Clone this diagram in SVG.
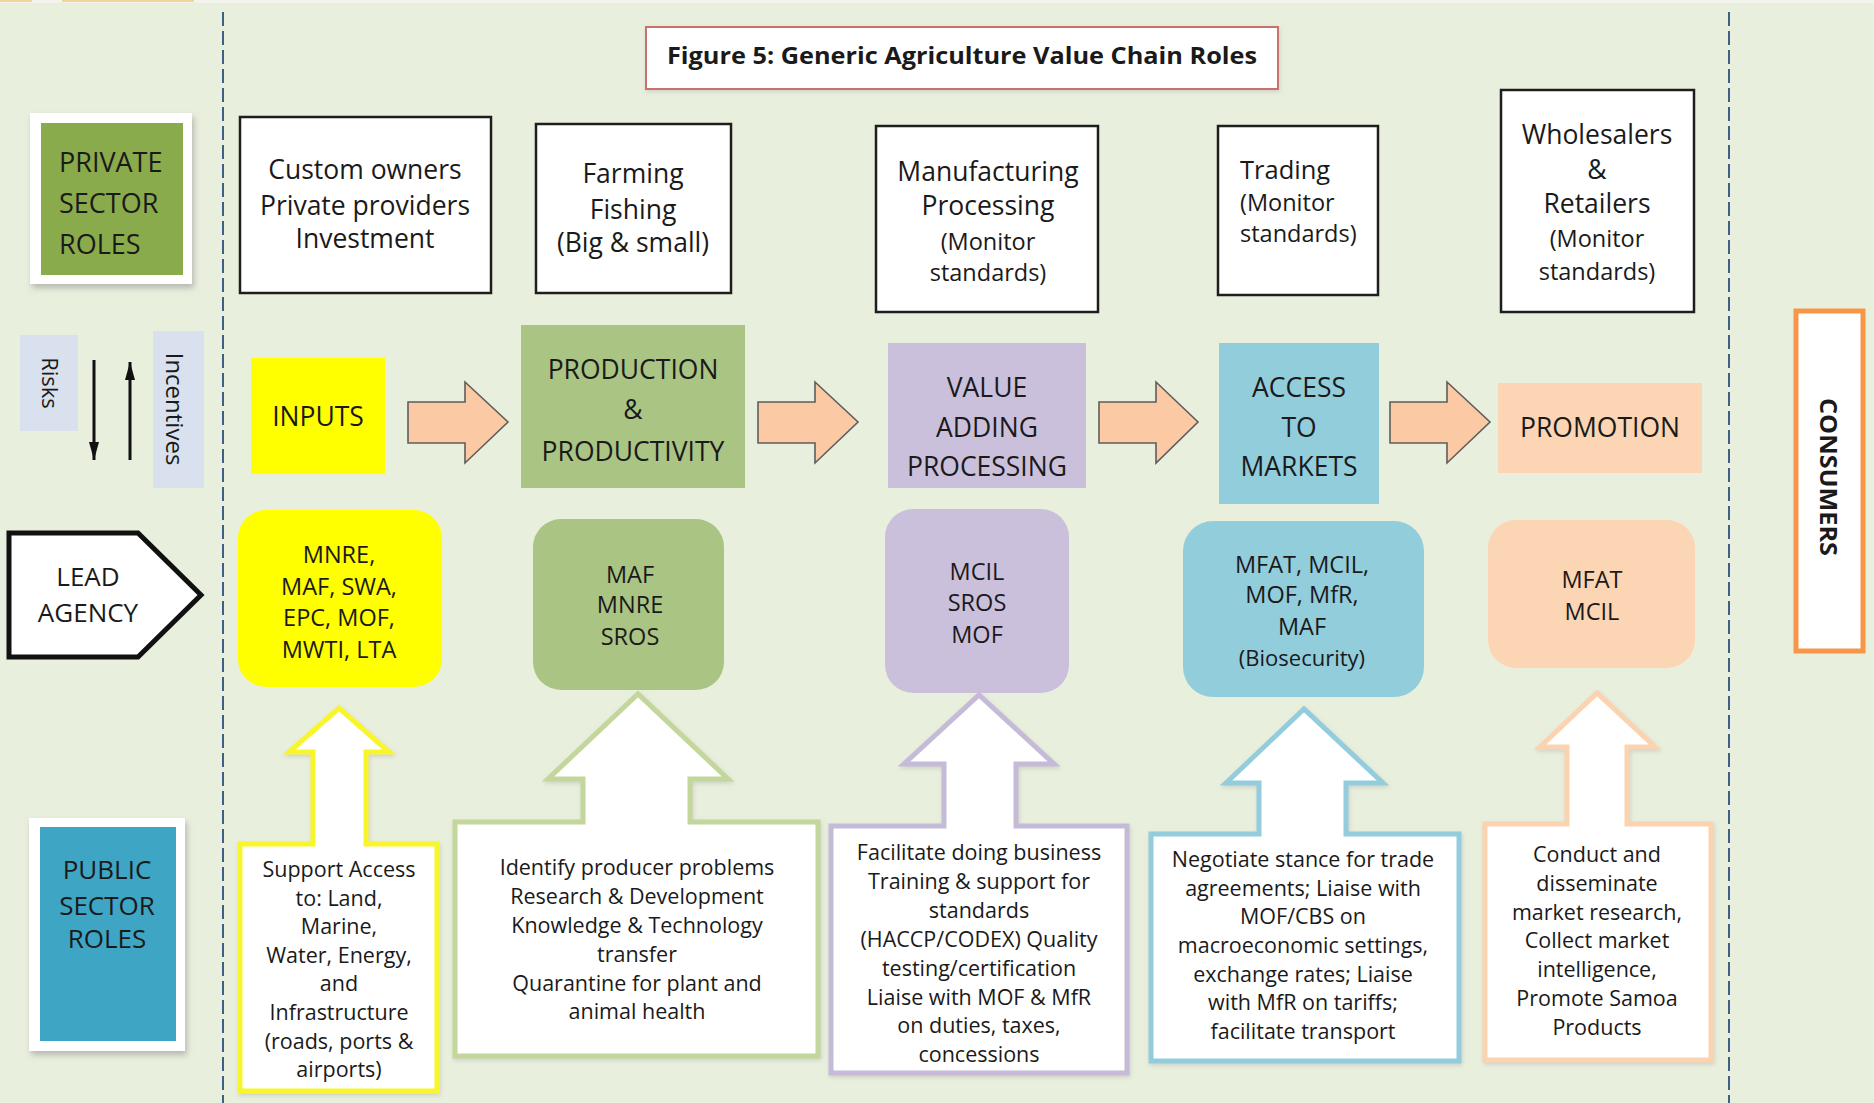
<svg xmlns="http://www.w3.org/2000/svg" width="1874" height="1103" viewBox="0 0 1874 1103">
  <defs>
    <style>
      .t { font-family: "Open Sans", "Liberation Sans", sans-serif; fill: #1a1a1a; text-anchor: middle; }
      .c { font-size: 21.5px; }
      .a { font-size: 23.5px; }
      .m { font-size: 23.5px; }
      .g { font-size: 26.5px; }
      .b { font-weight: bold; }
      .box { fill: #ffffff; stroke: #1e1e1e; stroke-width: 2.5; }
      .dash { stroke: #3f5f85; stroke-width: 2; stroke-dasharray: 14 5; fill: none; }
      .flow { fill: #fbc9a4; stroke: #5e5e5e; stroke-width: 1.6; stroke-linejoin: miter; }
      .call { fill: #ffffff; stroke-width: 5; stroke-linejoin: miter; }
      .rr { stroke: none; }
    </style>
    <filter id="shadow" x="-20%" y="-20%" width="140%" height="140%">
      <feDropShadow dx="2" dy="4" stdDeviation="3" flood-color="#8a8a8a" flood-opacity="0.55"/>
    </filter>
    <filter id="soft" x="-10%" y="-10%" width="120%" height="120%">
      <feDropShadow dx="1" dy="2" stdDeviation="2" flood-color="#9a9a9a" flood-opacity="0.35"/>
    </filter>
    <marker id="head" viewBox="0 0 18 10" markerUnits="userSpaceOnUse" markerWidth="18" markerHeight="10" refX="18" refY="5" orient="auto">
      <path d="M0,0 L18,5 L0,10 Z" fill="#111"/>
    </marker>
  </defs>

  <!-- page background -->
  <rect x="0" y="0" width="1874" height="1103" fill="#e9efdd"/>
  <rect x="0" y="0" width="1874" height="3" fill="#f3f5ec"/>
  <rect x="0" y="0" width="32" height="2" fill="#f2d49a"/>
  <rect x="62" y="0" width="132" height="2" fill="#f2d49a"/>

  <!-- column separators -->
  <line class="dash" x1="223" y1="12" x2="223" y2="1103"/>
  <line class="dash" x1="1729" y1="12" x2="1729" y2="1103"/>

  <!-- title -->
  <g id="title">
    <rect x="646" y="27" width="632" height="62" fill="#ffffff" stroke="#c8716d" stroke-width="2" filter="url(#soft)"/>
    <text class="t b" x="962" y="64" font-size="24" textLength="590" lengthAdjust="spacingAndGlyphs">Figure 5: Generic Agriculture Value Chain Roles</text>
  </g>

  <!-- row labels -->
  <g id="private-sector-roles">
    <rect x="30" y="113" width="162" height="171" fill="#ffffff" filter="url(#shadow)"/>
    <rect x="41" y="123" width="142" height="152" fill="#8aab4b"/>
    <text class="t" font-size="27" style="text-anchor:start" x="59" y="172">PRIVATE</text>
    <text class="t" font-size="27" style="text-anchor:start" x="59" y="213">SECTOR</text>
    <text class="t" font-size="27" style="text-anchor:start" x="59" y="254">ROLES</text>
  </g>

  <g id="risks">
    <rect x="20" y="335" width="58" height="96" fill="#d9e1ee"/>
    <text class="t" font-size="22" transform="translate(50,383) rotate(90)" x="0" y="8">Risks</text>
  </g>
  <g id="incentives">
    <rect x="153" y="331" width="51" height="157" fill="#d9e1ee"/>
    <text class="t" font-size="24" transform="translate(174,409) rotate(90)" x="0" y="8">Incentives</text>
  </g>

  <g id="lead-agency">
    <polygon points="9,533 138,533 201,595 138,657 9,657" fill="#ffffff" stroke="#111" stroke-width="5" stroke-linejoin="miter"/>
    <text class="t" font-size="26" x="88" y="586">LEAD</text>
    <text class="t" font-size="26" x="88" y="622">AGENCY</text>
  </g>

  <g id="public-sector-roles">
    <rect x="29" y="818" width="156" height="233" fill="#ffffff" filter="url(#shadow)"/>
    <rect x="40" y="827" width="136" height="214" fill="#3ea6c4"/>
    <text class="t" font-size="26" x="107" y="879">PUBLIC</text>
    <text class="t" font-size="26" x="107" y="915">SECTOR</text>
    <text class="t" font-size="26" x="107" y="948">ROLES</text>
  </g>

  <!-- private sector role boxes -->
  <g id="private-inputs">
    <rect class="box" x="240" y="117" width="251" height="176"/>
    <text class="t g" x="365" y="179">Custom owners</text>
    <text class="t g" x="365" y="215">Private providers</text>
    <text class="t g" x="365" y="248">Investment</text>
  </g>
  <g id="private-production">
    <rect class="box" x="536" y="124" width="195" height="169"/>
    <text class="t g" x="633" y="183">Farming</text>
    <text class="t g" x="633" y="219">Fishing</text>
    <text class="t g" x="633" y="252">(Big &amp; small)</text>
  </g>
  <g id="private-processing">
    <rect class="box" x="876" y="126" width="222" height="186"/>
    <text class="t g" x="988" y="181">Manufacturing</text>
    <text class="t g" x="988" y="215">Processing</text>
    <text class="t m" x="988" y="250">(Monitor</text>
    <text class="t m" x="988" y="281">standards)</text>
  </g>
  <g id="private-trading">
    <rect class="box" x="1218" y="126" width="160" height="169"/>
    <text class="t" font-size="25.5" style="text-anchor:start" x="1240" y="179">Trading</text>
    <text class="t m" style="text-anchor:start" x="1240" y="211">(Monitor</text>
    <text class="t m" style="text-anchor:start" x="1240" y="242">standards)</text>
  </g>
  <g id="private-retail">
    <rect class="box" x="1501" y="90" width="193" height="222"/>
    <text class="t g" x="1597" y="144">Wholesalers</text>
    <text class="t g" x="1597" y="179">&amp;</text>
    <text class="t g" x="1597" y="213">Retailers</text>
    <text class="t m" x="1597" y="247">(Monitor</text>
    <text class="t m" x="1597" y="280">standards)</text>
  </g>

  <!-- value chain stages -->
  <g id="stage-inputs">
    <rect x="251" y="358" width="134" height="116" fill="#ffff00"/>
    <text class="t g" x="318" y="426">INPUTS</text>
  </g>
  <g id="stage-production">
    <rect x="521" y="325" width="224" height="163" fill="#aac484"/>
    <text class="t g" x="633" y="379">PRODUCTION</text>
    <text class="t g" x="633" y="419">&amp;</text>
    <text class="t g" x="633" y="461">PRODUCTIVITY</text>
  </g>
  <g id="stage-value-adding">
    <rect x="888" y="343" width="198" height="145" fill="#cbc0dc"/>
    <text class="t g" x="987" y="397">VALUE</text>
    <text class="t g" x="987" y="437">ADDING</text>
    <text class="t g" x="987" y="476">PROCESSING</text>
  </g>
  <g id="stage-markets">
    <rect x="1219" y="343" width="160" height="161" fill="#92cddc"/>
    <text class="t g" x="1299" y="397">ACCESS</text>
    <text class="t g" x="1299" y="437">TO</text>
    <text class="t g" x="1299" y="476">MARKETS</text>
  </g>
  <g id="stage-promotion">
    <rect x="1498" y="383" width="204" height="90" fill="#fcd5b4"/>
    <text class="t g" x="1600" y="437">PROMOTION</text>
  </g>

  <g id="consumers">
    <rect x="1796" y="311" width="67" height="340" fill="#ffffff" stroke="#f79646" stroke-width="5"/>
    <text class="t b" font-size="24" transform="translate(1829,477) rotate(90)" x="0" y="9" textLength="158" lengthAdjust="spacingAndGlyphs">CONSUMERS</text>
  </g>

  <!-- lead agencies -->
  <g id="agency-inputs">
    <rect class="rr" x="238" y="510" width="204" height="177" rx="28" fill="#ffff00"/>
    <text class="t a" x="339" y="563">MNRE,</text>
    <text class="t a" x="339" y="595">MAF, SWA,</text>
    <text class="t a" x="339" y="626">EPC, MOF,</text>
    <text class="t a" x="339" y="658">MWTI, LTA</text>
  </g>
  <g id="agency-production">
    <rect class="rr" x="533" y="519" width="191" height="171" rx="28" fill="#aac484"/>
    <text class="t a" x="630" y="583">MAF</text>
    <text class="t a" x="630" y="613">MNRE</text>
    <text class="t a" x="630" y="645">SROS</text>
  </g>
  <g id="agency-value-adding">
    <rect class="rr" x="885" y="509" width="184" height="184" rx="28" fill="#cbc0dc"/>
    <text class="t a" x="977" y="580">MCIL</text>
    <text class="t a" x="977" y="611">SROS</text>
    <text class="t a" x="977" y="643">MOF</text>
  </g>
  <g id="agency-markets">
    <rect class="rr" x="1183" y="521" width="241" height="176" rx="30" fill="#92cddc"/>
    <text class="t a" x="1302" y="573">MFAT, MCIL,</text>
    <text class="t a" x="1302" y="603">MOF, MfR,</text>
    <text class="t a" x="1302" y="635">MAF</text>
    <text class="t" font-size="22" x="1302" y="666">(Biosecurity)</text>
  </g>
  <g id="agency-promotion">
    <rect class="rr" x="1488" y="520" width="207" height="148" rx="28" fill="#fcd5b4"/>
    <text class="t a" x="1592" y="588">MFAT</text>
    <text class="t a" x="1592" y="620">MCIL</text>
  </g>

  <!-- public sector roles: up-arrow callouts -->
  <g id="public-inputs">
    <path class="call" stroke="#f8f52a" filter="url(#soft)" d="M240,844 L313,844 L313,752 L289,752 L339,708 L389,752 L366,752 L366,844 L437,844 L437,1091 L240,1091 Z"/>
    <text class="t c" x="339" y="877">Support Access</text>
    <text class="t c" x="339" y="906">to: Land,</text>
    <text class="t c" x="339" y="934">Marine,</text>
    <text class="t c" x="339" y="963">Water, Energy,</text>
    <text class="t c" x="339" y="991">and</text>
    <text class="t c" x="339" y="1020">Infrastructure</text>
    <text class="t c" x="339" y="1049">(roads, ports &amp;</text>
    <text class="t c" x="339" y="1077">airports)</text>
  </g>
  <g id="public-production">
    <path class="call" stroke="#c3d69b" filter="url(#soft)" d="M455,822 L583,822 L583,779 L548,779 L638,694 L728,779 L690,779 L690,822 L818,822 L818,1056 L455,1056 Z"/>
    <text class="t c" x="637" y="875">Identify producer problems</text>
    <text class="t c" x="637" y="904">Research &amp; Development</text>
    <text class="t c" x="637" y="933">Knowledge &amp; Technology</text>
    <text class="t c" x="637" y="962">transfer</text>
    <text class="t c" x="637" y="991">Quarantine for plant and</text>
    <text class="t c" x="637" y="1019">animal health</text>
  </g>
  <g id="public-value-adding">
    <path class="call" stroke="#c5bbd8" filter="url(#soft)" d="M831,826 L944,826 L944,764 L904,764 L979,695 L1054,764 L1016,764 L1016,826 L1127,826 L1127,1073 L831,1073 Z"/>
    <text class="t c" x="979" y="860">Facilitate doing business</text>
    <text class="t c" x="979" y="889">Training &amp; support for</text>
    <text class="t c" x="979" y="918">standards</text>
    <text class="t c" x="979" y="947">(HACCP/CODEX) Quality</text>
    <text class="t c" x="979" y="976">testing/certification</text>
    <text class="t c" x="979" y="1005">Liaise with MOF &amp; MfR</text>
    <text class="t c" x="979" y="1033">on duties, taxes,</text>
    <text class="t c" x="979" y="1062">concessions</text>
  </g>
  <g id="public-markets">
    <path class="call" stroke="#93cddd" filter="url(#soft)" d="M1151,834 L1259,834 L1259,783 L1226,783 L1304,709 L1383,783 L1346,783 L1346,834 L1459,834 L1459,1061 L1151,1061 Z"/>
    <text class="t c" x="1303" y="867">Negotiate stance for trade</text>
    <text class="t c" x="1303" y="896">agreements; Liaise with</text>
    <text class="t c" x="1303" y="924">MOF/CBS on</text>
    <text class="t c" x="1303" y="953">macroeconomic settings,</text>
    <text class="t c" x="1303" y="982">exchange rates; Liaise</text>
    <text class="t c" x="1303" y="1010">with MfR on tariffs;</text>
    <text class="t c" x="1303" y="1039">facilitate transport</text>
  </g>
  <g id="public-promotion">
    <path class="call" stroke="#fbd3b0" filter="url(#soft)" d="M1485,824 L1567,824 L1567,747 L1540,747 L1597,693 L1655,747 L1627,747 L1627,824 L1711,824 L1711,1060 L1485,1060 Z"/>
    <text class="t c" x="1597" y="862">Conduct and</text>
    <text class="t c" x="1597" y="891">disseminate</text>
    <text class="t c" x="1597" y="920">market research,</text>
    <text class="t c" x="1597" y="948">Collect market</text>
    <text class="t c" x="1597" y="977">intelligence,</text>
    <text class="t c" x="1597" y="1006">Promote Samoa</text>
    <text class="t c" x="1597" y="1035">Products</text>
  </g>

  <!-- connectors -->
  <g id="connectors">
    <polygon class="flow" points="408,402 465,402 465,382 508,422 465,463 465,443 408,443"/>
    <polygon class="flow" points="758,402 815,402 815,382 858,422 815,463 815,443 758,443"/>
    <polygon class="flow" points="1099,402 1156,402 1156,382 1198,422 1156,463 1156,443 1099,443"/>
    <polygon class="flow" points="1390,402 1447,402 1447,382 1490,422 1447,463 1447,443 1390,443"/>
    <line x1="94" y1="360" x2="94" y2="460" stroke="#111" stroke-width="3" marker-end="url(#head)"/>
    <line x1="130" y1="460" x2="130" y2="362" stroke="#111" stroke-width="3" marker-end="url(#head)"/>
  </g>
</svg>
